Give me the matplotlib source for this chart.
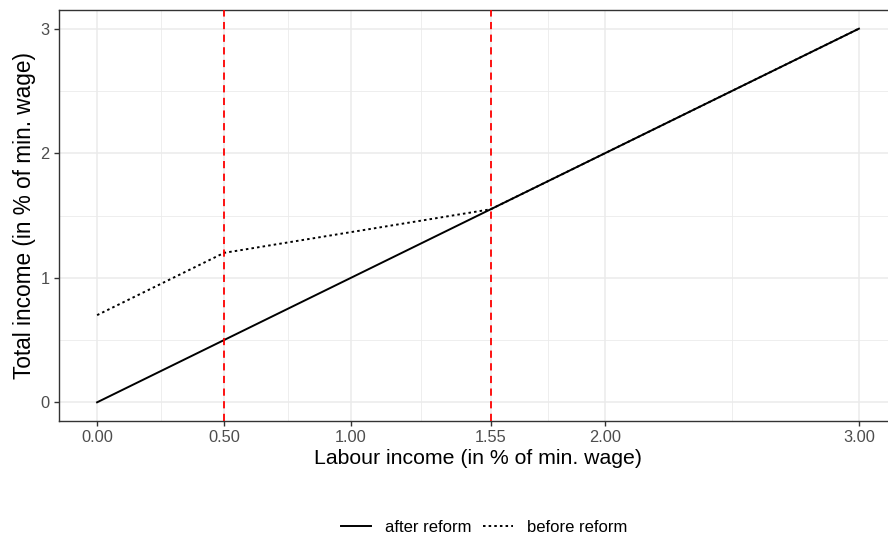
import matplotlib
matplotlib.use("Agg")
import matplotlib.pyplot as plt
from matplotlib.lines import Line2D

plt.rcParams['font.family'] = ['Liberation Sans', 'DejaVu Sans']

# data
labour = [0.0, 0.5, 1.55, 3.0]
after_reform = [0.0, 0.5, 1.55, 3.0]
before_reform = [0.7, 1.2, 1.55, 3.0]
thresholds = [0.5, 1.55]
x_breaks = [0.0, 0.5, 1.0, 1.55, 2.0, 3.0]
x_labels = ["0.00", "0.50", "1.00", "1.55", "2.00", "3.00"]
y_breaks = [0, 1, 2, 3]

W, H = 888, 543
fig = plt.figure(figsize=(W / 100, H / 100), dpi=100)
# panel spans a bit beyond the right edge (cropped like the reference)
ax = fig.add_axes([59 / W, (H - 421) / H, (897 - 59) / W, (421 - 10) / H])

ax.set_xlim(-0.15, 3.15)
ax.set_ylim(-0.15, 3.15)

# grid
minor_x = [(a + b) / 2 for a, b in zip(x_breaks[:-1], x_breaks[1:])]
minor_y = [(a + b) / 2 for a, b in zip(y_breaks[:-1], y_breaks[1:])]
for v in x_breaks:
    ax.axvline(v, color='#EBEBEB', lw=1.1, zorder=0)
for v in minor_x:
    ax.axvline(v, color='#EBEBEB', lw=0.6, zorder=0)
for v in y_breaks:
    ax.axhline(v, color='#EBEBEB', lw=1.1, zorder=0)
for v in minor_y:
    ax.axhline(v, color='#EBEBEB', lw=0.6, zorder=0)

ax.plot(labour, after_reform, color='black', lw=1.4, zorder=3)
ax.plot(labour, before_reform, color='black', lw=1.4, ls=(0, (1.3, 1.6)), zorder=3)
for t in thresholds:
    ax.axvline(t, color='red', lw=1.3, ls=(0, (4, 3)), zorder=4)

ax.set_xticks(x_breaks)
ax.set_xticklabels(x_labels)
ax.set_yticks(y_breaks)
ax.tick_params(axis='both', colors='#333333', labelcolor='#4D4D4D',
               labelsize=11.8, length=3.5, width=1)
ax.tick_params(axis='x', pad=3)
for s in ax.spines.values():
    s.set_color('#333333')
    s.set_linewidth(1)

ax.set_xlabel("Labour income (in % of min. wage)", fontsize=15.3, labelpad=3)
ax.set_ylabel("Total income (in % of min. wage)", fontsize=16.3, labelpad=3)

handles = [Line2D([], [], color='black', lw=1.4),
           Line2D([], [], color='black', lw=1.4, ls=(0, (1.3, 1.6)))]
fig.legend(handles, ["after reform", "before reform"], loc='center',
           bbox_to_anchor=(484 / W, 1 - 527 / H), ncol=2, frameon=False,
           fontsize=12, handlelength=1.8, columnspacing=0.7, handletextpad=0.85)

fig.savefig("out.png", dpi=100)
